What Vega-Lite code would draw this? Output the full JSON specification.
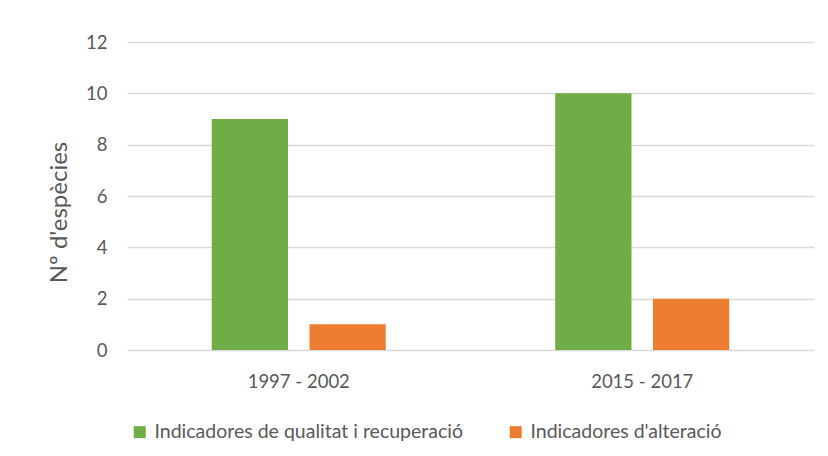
{
  "$schema": "https://vega.github.io/schema/vega-lite/v6.json",
  "width": 687,
  "height": 308,
  "autosize": {"type": "none"},
  "padding": {"left": 127, "top": 42, "right": 14, "bottom": 106},
  "background": "white",
  "data": {
    "values": [
      {"periode": "1997 - 2002", "tipus": "Indicadores de qualitat i recuperació", "n": 9},
      {"periode": "1997 - 2002", "tipus": "Indicadores d'alteració", "n": 1},
      {"periode": "2015 - 2017", "tipus": "Indicadores de qualitat i recuperació", "n": 10},
      {"periode": "2015 - 2017", "tipus": "Indicadores d'alteració", "n": 2}
    ]
  },
  "mark": {"type": "bar"},
  "encoding": {
    "x": {
      "field": "periode",
      "type": "nominal",
      "scale": {"paddingInner": 0.4934, "paddingOuter": 0.2467},
      "axis": {
        "title": null,
        "labelAngle": 0,
        "ticks": false,
        "domain": false,
        "labelPadding": 22,
        "labelFont": "Lato",
        "labelFontSize": 18.5,
        "labelColor": "#595959"
      }
    },
    "xOffset": {
      "field": "tipus",
      "type": "nominal",
      "sort": ["Indicadores de qualitat i recuperació", "Indicadores d'alteració"],
      "scale": {"paddingInner": 0.22, "paddingOuter": 0}
    },
    "y": {
      "field": "n",
      "type": "quantitative",
      "scale": {"domain": [0, 12], "nice": false},
      "axis": {
        "title": "Nº d'espècies",
        "titleFont": "Lato",
        "titleFontSize": 24,
        "titleFontWeight": "normal",
        "titleColor": "#595959",
        "titlePadding": 14,
        "titleY": 170,
        "values": [0, 2, 4, 6, 8, 10, 12],
        "domain": false,
        "ticks": false,
        "labelPadding": 20,
        "labelFont": "Lato",
        "labelFontSize": 18.5,
        "labelColor": "#595959",
        "gridColor": "#d9d9d9",
        "gridWidth": 1.5
      }
    },
    "color": {
      "field": "tipus",
      "type": "nominal",
      "sort": ["Indicadores de qualitat i recuperació", "Indicadores d'alteració"],
      "scale": {"range": ["#70ad47", "#ed7d31"]},
      "legend": {
        "title": null,
        "orient": "none",
        "direction": "horizontal",
        "legendX": 3,
        "legendY": 380,
        "symbolType": "square",
        "symbolSize": 144,
        "symbolStrokeWidth": 0,
        "labelFont": "Lato",
        "labelFontSize": 19.5,
        "labelColor": "#595959",
        "labelOffset": 5,
        "columnPadding": 43,
        "labelLimit": 400
      }
    }
  },
  "config": {
    "view": {"stroke": null}
  }
}
